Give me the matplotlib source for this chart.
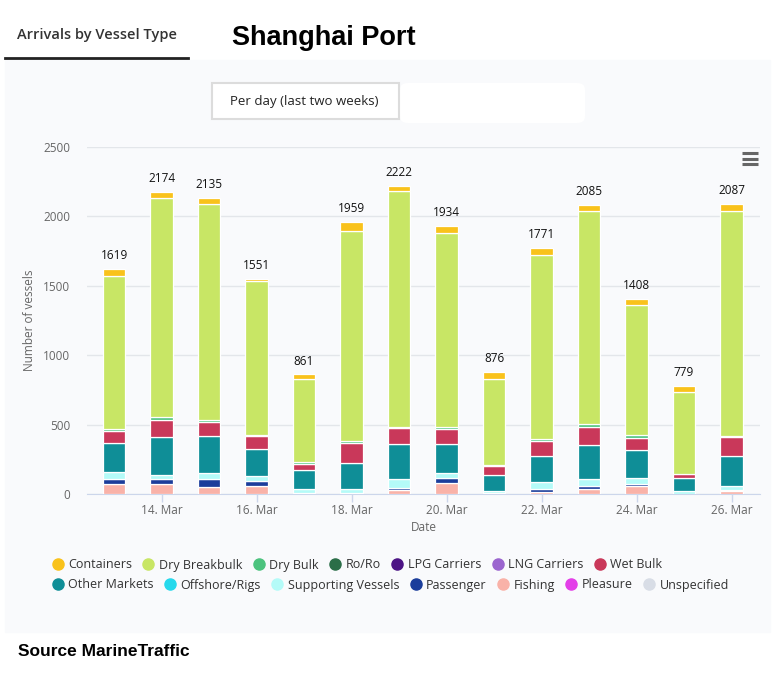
import numpy as np
import matplotlib
matplotlib.use('Agg')
import matplotlib.pyplot as plt
from matplotlib.lines import Line2D
from matplotlib.patches import Rectangle, FancyBboxPatch

plt.rcParams['font.family'] = ['Open Sans', 'DejaVu Sans']

# ---- data ----
days = ['13. Mar', '14. Mar', '15. Mar', '16. Mar', '17. Mar', '18. Mar', '19. Mar',
        '20. Mar', '21. Mar', '22. Mar', '23. Mar', '24. Mar', '25. Mar', '26. Mar']
totals = [1619, 2174, 2135, 1551, 861, 1959, 2222, 1934, 876, 1771, 2085, 1408, 779, 2087]

containers    = [50, 44, 44, 20, 36, 65, 36, 51, 44, 51, 44, 44, 44, 51]
dry_breakbulk = [1103, 1576, 1560, 1104, 593, 1514, 1702, 1400, 622, 1324, 1535, 941, 592, 1615]
dry_bulk      = [10, 19, 12, 12, 17, 15, 5, 12, 10, 12, 22, 22, 0, 10]
ro_ro         = [0] * 14
lpg_carriers  = [0] * 14
lng_carriers  = [0] * 14
wet_bulk      = [90, 124, 102, 90, 39, 139, 119, 112, 66, 107, 134, 83, 29, 139]
other_markets = [211, 277, 265, 197, 139, 187, 253, 209, 114, 190, 243, 202, 92, 211]
offshore_rigs = [0] * 14
supporting    = [44, 29, 41, 34, 27, 29, 61, 34, 12, 53, 46, 41, 22, 32]
passenger     = [36, 32, 58, 36, 0, 10, 19, 36, 8, 17, 22, 17, 0, 10]
fishing       = [75, 73, 53, 58, 10, 0, 27, 80, 0, 17, 39, 58, 0, 19]
pleasure      = [0] * 14
unspecified   = [0] * 14

# legend order = top of stack first
series = [
    ('Containers', containers, '#f9c21b'),
    ('Dry Breakbulk', dry_breakbulk, '#c8e665'),
    ('Dry Bulk', dry_bulk, '#4cc37e'),
    ('Ro/Ro', ro_ro, '#2b6e48'),
    ('LPG Carriers', lpg_carriers, '#4c1485'),
    ('LNG Carriers', lng_carriers, '#9b65cf'),
    ('Wet Bulk', wet_bulk, '#c9385a'),
    ('Other Markets', other_markets, '#0f8e97'),
    ('Offshore/Rigs', offshore_rigs, '#26d9ec'),
    ('Supporting Vessels', supporting, '#b4fbf8'),
    ('Passenger', passenger, '#1b3d9b'),
    ('Fishing', fishing, '#f9b2a8'),
    ('Pleasure', pleasure, '#e33fe8'),
    ('Unspecified', unspecified, '#d8dde6'),
]

W, H = 781, 679
fig = plt.figure(figsize=(W / 100, H / 100), dpi=100)
fig.patch.set_facecolor('white')

def fx(px):
    return px / W

def fy(py):
    return 1 - py / H

panel_col = '#f9fafc'
fig.add_artist(Rectangle((fx(5), fy(632)), fx(765), (632 - 60) / H,
                         transform=fig.transFigure, color=panel_col, zorder=0))

ax = fig.add_axes([fx(87), fy(494), fx(760 - 87), (494 - 147) / H])
ax.set_facecolor(panel_col)

x = np.arange(len(days))
bottom = np.zeros(len(days))
for name, vals, col in reversed(series):
    vals = np.array(vals, dtype=float)
    m = vals > 0
    if m.any():
        ax.bar(x[m], vals[m], bottom=bottom[m], width=0.47, color=col,
               edgecolor='white', linewidth=0.9, zorder=3)
    bottom += vals

for xi, t in zip(x, totals):
    ax.annotate(str(t), (xi, t), xytext=(0, 5), textcoords='offset points',
                ha='center', va='bottom', fontsize=8.5, color='#111111')

ax.set_xlim(-0.57, 13.6)
ax.set_ylim(0, 2500)
ax.set_yticks(np.arange(0, 2501, 500))
ax.yaxis.grid(True, color='#e3e6ea', linewidth=1, zorder=0)
ax.set_xticks(x[1::2])
ax.set_xticklabels(days[1::2])
ax.tick_params(axis='x', length=6, width=1, color='#ccd6eb', colors='#666666',
               labelsize=8.5, pad=1)
ax.tick_params(axis='x', color='#ccd6eb')
ax.tick_params(axis='y', length=0, colors='#666666', labelsize=8.5, pad=12)
for s in ['top', 'right', 'left']:
    ax.spines[s].set_visible(False)
ax.spines['bottom'].set_color('#ccd6eb')
ax.set_xlabel('Date', fontsize=8.5, color='#666666', labelpad=3)
ax.set_ylabel('Number of vessels', fontsize=8.5, color='#666666', labelpad=5)

# legends, one per row so items flow like the original
def make_legend(items, ypos):
    handles = [Line2D([], [], marker='o', linestyle='', markersize=8,
                      markerfacecolor=c, markeredgecolor=c) for _, _, c in items]
    labels = [n for n, _, _ in items]
    leg = fig.legend(handles, labels, ncol=len(items), loc='center left',
                     bbox_to_anchor=(fx(45), fy(ypos)), frameon=False,
                     fontsize=9, handletextpad=0.25, columnspacing=0.7,
                     handlelength=1.2, borderaxespad=0)
    for t in leg.get_texts():
        t.set_color('#333333')

make_legend(series[:7], 565)
make_legend(series[7:], 585)

# header
fig.text(fx(17), fy(35), 'Arrivals by Vessel Type', fontsize=10.5, fontweight='semibold',
         color='#333333', va='center', ha='left')
fig.add_artist(Line2D([fx(5), fx(188)], [fy(58), fy(58)], transform=fig.transFigure,
                      color='#222222', linewidth=2))
fig.text(fx(232), fy(38), 'Shanghai Port', fontsize=19.5, fontweight='bold',
         family='Liberation Sans', color='black', va='center', ha='left')

# range button
fig.add_artist(FancyBboxPatch((fx(400), fy(123)), fx(185), 40 / H,
                              boxstyle='round,pad=0,rounding_size=0.01',
                              transform=fig.transFigure, facecolor='white',
                              edgecolor='none', zorder=1))
fig.add_artist(Rectangle((fx(212), fy(119)), fx(187), 36 / H, transform=fig.transFigure,
                         facecolor='white', edgecolor='#dcdcdc', linewidth=1.5, zorder=2))
fig.text(fx(230), fy(102), 'Per day (last two weeks)', fontsize=9.5, color='#222222',
         va='center', ha='left', zorder=3)

# context menu icon
for py in (153, 158.5, 164):
    fig.add_artist(Line2D([fx(742), fx(758)], [fy(py), fy(py)], transform=fig.transFigure,
                          color='#666666', linewidth=2.2, solid_capstyle='butt'))

fig.text(fx(18), fy(651), 'Source MarineTraffic', fontsize=12.5, fontweight='bold',
         family='Liberation Sans', color='black', va='center', ha='left')

fig.savefig('out.png', dpi=100)
